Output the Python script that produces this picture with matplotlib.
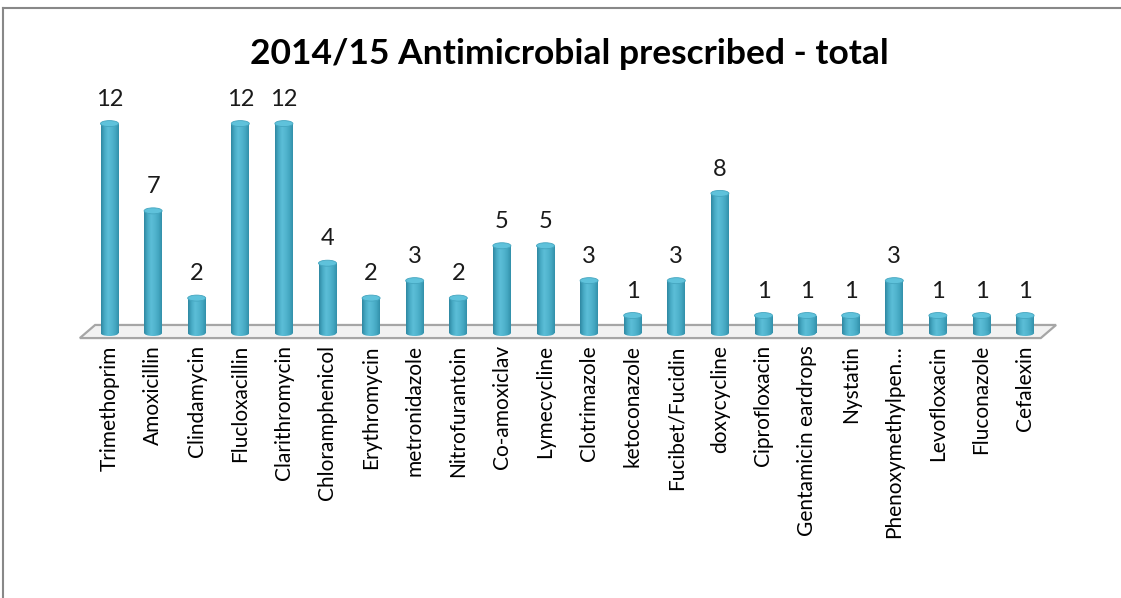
import matplotlib
matplotlib.use("Agg")
import matplotlib.pyplot as plt
import numpy as np
from matplotlib.patches import Rectangle, Ellipse, Polygon
from matplotlib.colors import LinearSegmentedColormap

drugs = ["Trimethoprim", "Amoxicillin", "Clindamycin", "Flucloxacillin",
         "Clarithromycin", "Chloramphenicol", "Erythromycin", "metronidazole",
         "Nitrofurantoin", "Co-amoxiclav", "Lymecycline", "Clotrimazole",
         "ketoconazole", "Fucibet/Fucidin", "doxycycline", "Ciprofloxacin",
         "Gentamicin eardrops", "Nystatin", "Phenoxymethylpen…", "Levofloxacin",
         "Fluconazole", "Cefalexin"]
counts = [12, 7, 2, 12, 12, 4, 2, 3, 2, 5, 5, 3, 1, 3, 8, 1, 1, 1, 3, 1, 1, 1]

title = "2014/15 Antimicrobial prescribed - total"

# cylinder shading across the bar width
shade = LinearSegmentedColormap.from_list(
    "cyl", ["#2f88a2", "#48abc5", "#5cbed7", "#52b5cf", "#45a8c2", "#3390aa"])

W, H = 1121, 598
fig = plt.figure(figsize=(W / 100, H / 100), dpi=100)

# axes placed so one category = 43.6 px and one unit = 17.45 px
xpx, ypx = 43.6, 17.45
x0_px, base_px = 109.5, 333
left_px, right_px, top_px, bot_px = 60, 1080, 60, 341
ax = fig.add_axes([left_px / W, 1 - bot_px / H,
                   (right_px - left_px) / W, (bot_px - top_px) / H])
ax.set_xlim((left_px - x0_px) / xpx, (right_px - x0_px) / xpx)
ax.set_ylim((base_px - bot_px) / ypx, (base_px - top_px) / ypx)
for s in ax.spines.values():
    s.set_visible(False)
ax.set_yticks([])

n = len(drugs)
x = np.arange(n)

# floor of the 3D plot
fl, fr, dx = -0.68, n - 1 + 0.36, 0.35
yf, yb = -0.29, 0.46
floor = Polygon([(fl, yf), (fr, yf), (fr + dx, yb), (fl + dx, yb)],
                closed=True, facecolor="#f2f2f2", edgecolor="#a6a6a6", lw=1.6, zorder=1)
ax.add_patch(floor)

bw = 18 / xpx        # bar width in data units
eh = 6 / ypx         # ellipse height in data units
grad = np.linspace(0, 1, 64).reshape(1, -1)

for xi, v in zip(x, counts):
    body = Rectangle((xi - bw / 2, 0), bw, v, facecolor="none", edgecolor="none")
    ax.add_patch(body)
    im = ax.imshow(grad, cmap=shade, aspect="auto", zorder=3,
                   extent=(xi - bw / 2, xi + bw / 2, 0, v))
    im.set_clip_path(body)
    bottom = Ellipse((xi, 0), bw, eh, facecolor="none", edgecolor="none")
    ax.add_patch(bottom)
    im2 = ax.imshow(grad, cmap=shade, aspect="auto", zorder=3,
                    extent=(xi - bw / 2, xi + bw / 2, -eh / 2, eh / 2))
    im2.set_clip_path(bottom)
    ax.add_patch(Ellipse((xi, v), bw, eh, facecolor="#5fc2db",
                         edgecolor="#44a5bf", lw=0.6, zorder=4))
    ax.annotate(str(v), (xi, v), xytext=(0, 10), textcoords="offset points",
                ha="center", va="bottom", fontsize=17, family="Lato",
                color="#1a1a1a", zorder=5)

ax.set_xticks(x)
ax.set_xticklabels(drugs, rotation=90, fontsize=15, family="Lato",
                   color="#000000", va="top")
ax.tick_params(axis="x", length=0, pad=3)

fig.text(569 / W, 1 - 54 / H, title, ha="center", va="center",
         fontsize=25.5, fontweight="bold", family="Lato", color="#000000")

# chart area border
fig.add_artist(plt.Line2D([3 / W, 3 / W], [0, 1 - 8 / H], color="#888888", lw=1.5))
fig.add_artist(plt.Line2D([3 / W, 1], [1 - 8 / H, 1 - 8 / H], color="#888888", lw=1.5))

fig.savefig("out.png", dpi=100, facecolor="white")
